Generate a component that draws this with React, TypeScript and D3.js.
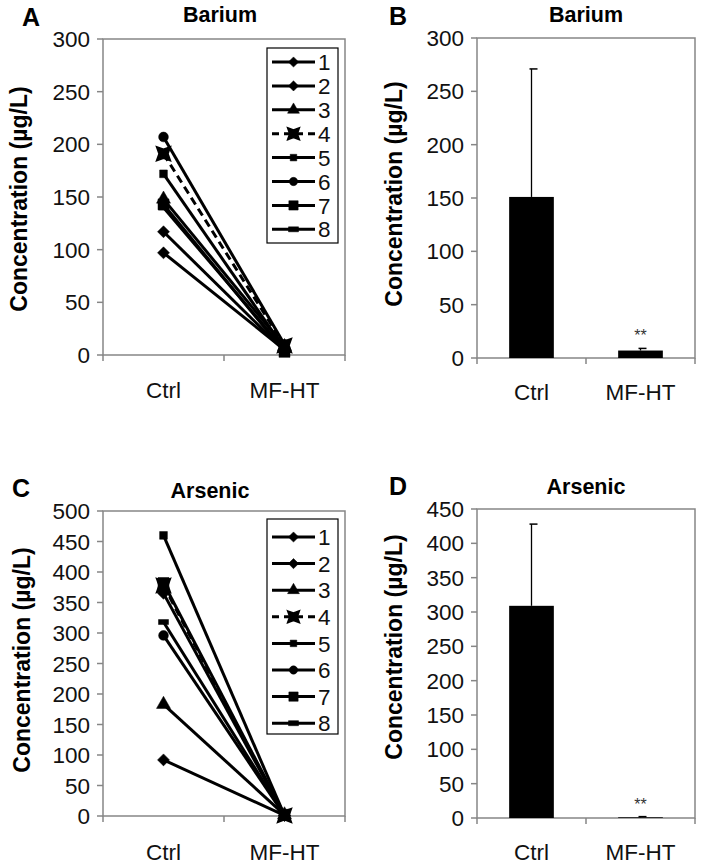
import React from "react";
import * as d3 from "d3";

const categories = ["Ctrl", "MF-HT"];
const seriesNames = ["1", "2", "3", "4", "5", "6", "7", "8"];

const bariumCtrl = [97, 117, 148, 191, 172, 207, 143, 140];
const bariumMFHT = [5, 4, 8, 9, 6, 10, 3, 5];
const arsenicCtrl = [92, 365, 183, 378, 460, 296, 382, 318];
const arsenicMFHT = [1, 1, 2, 1, 1, 1, 2, 1];

const bariumMean = [151, 7];
const bariumSD = [120, 2];
const arsenicMean = [309, 1];
const arsenicSD = [119, 1];

const bariumTicks = [0, 50, 100, 150, 200, 250, 300];
const arsenicLineTicks = [0, 50, 100, 150, 200, 250, 300, 350, 400, 450, 500];
const arsenicBarTicks = [0, 50, 100, 150, 200, 250, 300, 350, 400, 450];

const markerTypes = ["diamond", "diamond", "triangle", "star", "square", "circle", "bigsquare", "dash"];

const FONT = "'Liberation Sans', Arial, sans-serif";
const AXIS = "#868686";

type Box = { left: number; right: number; top: number; bottom: number };

function Marker({ type, x, y, k = 1 }: { type: string; x: number; y: number; k?: number }) {
  let d = "";
  if (type === "diamond") {
    const s = 6 * k;
    d = `M0,${-s}L${s},0L0,${s}L${-s},0Z`;
  } else if (type === "triangle") d = d3.symbol(d3.symbolTriangle, 85 * k * k)()!;
  else if (type === "square") d = d3.symbol(d3.symbolSquare, 60 * k * k)()!;
  else if (type === "bigsquare") d = d3.symbol(d3.symbolSquare, 120 * k * k)()!;
  else if (type === "circle") d = d3.symbol(d3.symbolCircle, 75 * k * k)()!;
  else if (type === "star") {
    const s = 7 * k, c = 4.5 * k;
    d = `M${-s},${-s}L0,${-c}L${s},${-s}L${c},0L${s},${s}L0,${c}L${-s},${s}L${-c},0Z`;
  } else if (type === "dash") {
    d = "M-5,-2.5H5V2.5H-5Z";
  }
  return <path d={d} transform={`translate(${x},${y})`} fill="#000" stroke="#000" strokeWidth={type === "star" ? 1.5 : 0.5} />;
}

function Frame({ box, y, ticks, x }: { box: Box; y: d3.ScaleLinear<number, number>; ticks: number[]; x: d3.ScaleBand<string> }) {
  const mid = x(categories[1]) as number;
  return (
    <g>
      <rect x={box.left} y={box.top} width={box.right - box.left} height={box.bottom - box.top} fill="none" stroke={AXIS} strokeWidth={1.5} />
      {ticks.map((t) => (
        <g key={t}>
          <line x1={box.left - 6} x2={box.left} y1={y(t)} y2={y(t)} stroke={AXIS} strokeWidth={1.5} />
          <text x={box.left - 13} y={y(t)} dy="0.36em" textAnchor="end" fontFamily={FONT} fontSize={22.5} fill="#111">{t}</text>
        </g>
      ))}
      {[box.left, mid, box.right].map((tx, i) => (
        <line key={i} x1={tx} x2={tx} y1={box.bottom} y2={box.bottom + 6} stroke={AXIS} strokeWidth={1.5} />
      ))}
    </g>
  );
}

function Labels({ letter, lx, ly, title, tx, ty, ax, ay, catY, x }: any) {
  return (
    <g fontFamily={FONT}>
      <text x={lx} y={ly} fontSize={25} fontWeight="bold">{letter}</text>
      <text x={tx} y={ty} fontSize={21.5} fontWeight="bold" textAnchor="middle">{title}</text>
      <text transform={`translate(${ax},${ay}) rotate(-90)`} fontSize={23} fontWeight="bold" textAnchor="middle">Concentration (µg/L)</text>
      {categories.map((c) => (
        <text key={c} x={(x(c) as number) + x.bandwidth() / 2} y={catY} fontSize={22.5} textAnchor="middle" fill="#111">{c}</text>
      ))}
    </g>
  );
}

function LinePanel({ box, ctrl, mfht, ticks, max, legend, letter, lx, ly, title, tx, ty, ax, ay, catY }: any) {
  const x = d3.scaleBand<string>().domain(categories).range([box.left, box.right]);
  const y = d3.scaleLinear().domain([0, max]).range([box.bottom, box.top]);
  const cx = (c: string) => (x(c) as number) + x.bandwidth() / 2;
  const line = d3.line<[number, number]>();
  return (
    <g>
      <Frame box={box} y={y} ticks={ticks} x={x} />
      {seriesNames.map((s, i) => (
        <path key={s} d={line([[cx(categories[0]), y(ctrl[i])], [cx(categories[1]), y(mfht[i])]])!} stroke="#000" strokeWidth={3} fill="none" strokeDasharray={markerTypes[i] === "star" ? "8,5" : undefined} />
      ))}
      {seriesNames.map((s, i) => (
        <g key={s}>
          <Marker type={markerTypes[i]} x={cx(categories[0])} y={y(ctrl[i])} />
          <Marker type={markerTypes[i]} x={cx(categories[1])} y={y(mfht[i])} />
        </g>
      ))}
      <rect x={legend.x0} y={legend.y0} width={legend.x1 - legend.x0} height={legend.y1 - legend.y0} fill="#fff" stroke="#000" strokeWidth={1.2} />
      {seriesNames.map((s, i) => {
        const ry = legend.first + i * legend.step;
        return (
          <g key={s}>
            <line x1={legend.x0 + 5} x2={legend.x0 + 48} y1={ry} y2={ry} stroke="#000" strokeWidth={3} strokeDasharray={markerTypes[i] === "star" ? "7,5" : undefined} />
            <Marker type={markerTypes[i]} x={legend.x0 + 26.5} y={ry} k={0.85} />
            <text x={legend.x0 + 51} y={ry} dy="0.36em" fontFamily={FONT} fontSize={22.5} fill="#111">{s}</text>
          </g>
        );
      })}
      <Labels letter={letter} lx={lx} ly={ly} title={title} tx={tx} ty={ty} ax={ax} ay={ay} catY={catY} x={x} />
    </g>
  );
}

function BarPanel({ box, mean, sd, ticks, max, letter, lx, ly, title, tx, ty, ax, ay, catY }: any) {
  const x = d3.scaleBand<string>().domain(categories).range([box.left, box.right]);
  const y = d3.scaleLinear().domain([0, max]).range([box.bottom, box.top]);
  const bw = x.bandwidth() * 0.41;
  return (
    <g>
      <Frame box={box} y={y} ticks={ticks} x={x} />
      {categories.map((c, i) => {
        const cx = (x(c) as number) + x.bandwidth() / 2;
        return (
          <g key={c}>
            <line x1={cx} x2={cx} y1={y(mean[i])} y2={y(mean[i] + sd[i])} stroke="#000" strokeWidth={1.3} />
            <line x1={cx - 2} x2={cx + 6} y1={y(mean[i] + sd[i])} y2={y(mean[i] + sd[i])} stroke="#000" strokeWidth={1.5} />
            <rect x={cx - bw / 2} y={y(mean[i])} width={bw} height={y(0) - y(mean[i])} fill="#000" />
            {i === 1 && (
              <text x={cx} y={y(mean[i] + sd[i]) - 7} textAnchor="middle" fontFamily={FONT} fontSize={16} fill="#333">**</text>
            )}
          </g>
        );
      })}
      <Labels letter={letter} lx={lx} ly={ly} title={title} tx={tx} ty={ty} ax={ax} ay={ay} catY={catY} x={x} />
    </g>
  );
}

export default function App() {
  return (
    <svg width={703} height={868} style={{ position: "absolute", left: 0, top: 0, background: "#fff" }}>
      <rect width={703} height={868} fill="#fff" />
      <LinePanel
        box={{ left: 103, right: 345, top: 39, bottom: 355 }}
        ctrl={bariumCtrl} mfht={bariumMFHT} ticks={bariumTicks} max={300}
        legend={{ x0: 267, x1: 338, y0: 48, y1: 243, first: 62, step: 23.9 }}
        letter="A" lx={22} ly={26} title="Barium" tx={220} ty={22} ax={27} ay={199} catY={398}
      />
      <BarPanel
        box={{ left: 477, right: 695, top: 38, bottom: 358 }}
        mean={bariumMean} sd={bariumSD} ticks={bariumTicks} max={300}
        letter="B" lx={389} ly={25} title="Barium" tx={586} ty={22} ax={402} ay={194} catY={400}
      />
      <LinePanel
        box={{ left: 103, right: 345, top: 511, bottom: 816 }}
        ctrl={arsenicCtrl} mfht={arsenicMFHT} ticks={arsenicLineTicks} max={500}
        legend={{ x0: 267, x1: 338, y0: 519, y1: 734, first: 537, step: 26.6 }}
        letter="C" lx={12} ly={497} title="Arsenic" tx={210} ty={498} ax={30} ay={660} catY={860}
      />
      <BarPanel
        box={{ left: 477, right: 695, top: 509, bottom: 818 }}
        mean={arsenicMean} sd={arsenicSD} ticks={arsenicBarTicks} max={450}
        letter="D" lx={389} ly={495} title="Arsenic" tx={586} ty={494} ax={402} ay={647} catY={860}
      />
    </svg>
  );
}
